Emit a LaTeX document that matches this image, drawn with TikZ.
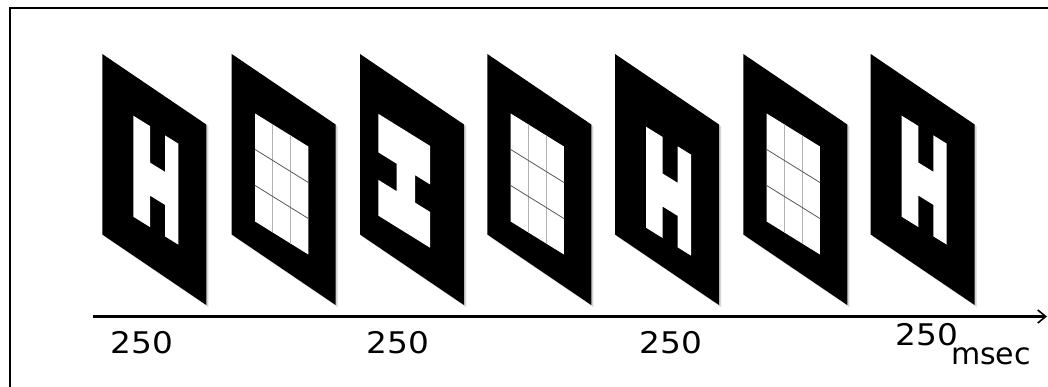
\documentclass[tikz,border=0pt]{standalone}
\usepackage{fontspec}
\setmainfont{DejaVu Sans}
\usetikzlibrary{arrows.meta}
\tikzset{
  frameline/.style={line width=2.5pt},
  outerfill/.style={fill=black},
  shadowfill/.style={fill=black!30, opacity=0.55},
  innerfill/.style={fill=white},
  gridv/.style={draw=black!30, line width=0.8pt},
  gridh/.style={draw=black!65, line width=0.8pt},
  timeaxis/.style={line width=2.4pt, -{Straight Barb[length=8pt,width=13pt,line width=1.6pt]}},
  biglbl/.style={font=\fontsize{29.8}{34}\selectfont, inner sep=0pt},
  unitlbl/.style={font=\fontsize{30}{34}\selectfont, inner sep=0pt},
  panelbase/.pic={
    \fill[shadowfill, shift={(2,2)}, yslant=-0.678] (0,0) rectangle (104,180.5);
    \fill[outerfill, yslant=-0.678] (0,0) rectangle (104,180.5);
  },
  hmark/.pic={
    \fill[innerfill, yslant=-0.62] (31,42.5) -- (47.7,42.5) -- (47.7,79) -- (62.7,79)
      -- (62.7,42.5) -- (76,42.5) -- (76,143.5) -- (62.7,143.5) -- (62.7,112)
      -- (47.7,112) -- (47.7,143.5) -- (31,143.5) -- cycle;
  },
  imark/.pic={
    \fill[innerfill, yslant=-0.62] (18.3,48.5) -- (70,48.5) -- (70,87) -- (55,87)
      -- (55,114.5) -- (70,114.5) -- (70,150.3) -- (18.3,150.3) -- (18.3,114.5)
      -- (36.7,114.5) -- (36.7,87) -- (18.3,87) -- cycle;
  },
  gridmark/.pic={
    \fill[innerfill, yslant=-0.62] (23.3,45) rectangle (76.6,153);
    \draw[gridv, yslant=-0.62] (41.1,45) -- (41.1,153) (58.9,45) -- (58.9,153);
    \draw[gridh, yslant=-0.62] (23.3,81) -- (76.6,81) (23.3,117) -- (76.6,117);
  }
}
\begin{document}
\begin{tikzpicture}[x=1pt,y=-1pt]
\useasboundingbox (0,0) rectangle (1048,387);
\fill[white] (0,0) rectangle (1048,387);
% frame (left and top edges)
\draw[frameline] (10,388) -- (10,8) -- (1049,8);
% panels
\pic at (102.3,54) {panelbase};
\pic at (102.3,54) {hmark};
\pic at (231.7,54) {panelbase};
\pic at (231.7,54) {gridmark};
\pic at (360,54) {panelbase};
\pic at (360,54) {imark};
\pic at (487.3,54) {panelbase};
\pic at (487.3,54) {gridmark};
\pic at (615,54) {panelbase};
\pic at (615,65) {hmark};
\pic at (743.3,54) {panelbase};
\pic at (743.3,54) {gridmark};
\pic at (870.7,54) {panelbase};
\pic at (870.7,54) {hmark};
% time axis
\coordinate (axstart) at (92.7,316.5);
\coordinate (axend) at (1047,316.5);
\draw[timeaxis] (axstart) -- (axend);
% labels
\node[biglbl] (t1) at (142,342.5) {\scalebox{1.1}[1]{250}};
\node[biglbl] (t2) at (398,342.5) {\scalebox{1.1}[1]{250}};
\node[biglbl] (t3) at (671,342.5) {\scalebox{1.1}[1]{250}};
\node[biglbl] (t4) at (927,335) {\scalebox{1.1}[1]{250}};
\node[unitlbl] (unit) at (991,356) {msec};
\end{tikzpicture}
\end{document}
